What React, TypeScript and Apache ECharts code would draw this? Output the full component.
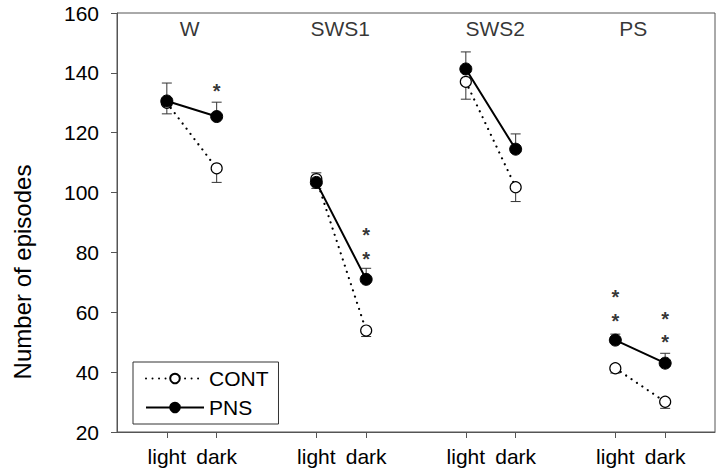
import React, { useEffect, useRef } from "react";
import * as echarts from "echarts";

// x positions: 13 category slots, pairs at 1-2, 4-5, 7-8, 10-11
const xCategories = ["", "light", "dark", "", "light", "dark", "", "light", "dark", "", "light", "dark", ""];
const groupNames = ["W", "SWS1", "SWS2", "PS"];
const groupLabelX = [1.46, 4.48, 7.59, 10.36];
const groupLabelY = 154.7;

const contMean = ["-", 130.0, 108.1, "-", 104.5, 53.9, "-", 137.0, 101.8, "-", 41.3, 30.1, "-"];
const contErr = [0, 3.7, 4.7, 0, 3.1, 2.0, 0, 5.8, 4.8, 0, 1.6, 2.2, 0];
const pnsMean = ["-", 130.6, 125.4, "-", 103.4, 71.0, "-", 141.3, 114.5, "-", 50.7, 43.0, "-"];
const pnsErr = [0, 6.0, 4.8, 0, 3.2, 3.7, 0, 5.7, 5.1, 0, 2.0, 3.3, 0];

// significance asterisks: [x index, y value]
const stars = [
  [2, 135.4],
  [5, 87.0],
  [5, 79.3],
  [10, 66.6],
  [10, 58.5],
  [11, 59.1],
  [11, 51.3],
];

const yTitle = "Number of episodes";
const FONT = "'Liberation Sans', Arial, Helvetica, sans-serif";

function errData(mean: any[], err: number[], dir: number) {
  const out: number[][] = [];
  mean.forEach((m, i) => {
    if (typeof m === "number") out.push([i, m, m + dir * err[i]]);
  });
  return out;
}

function errSeries(data: number[][]) {
  return {
    type: "custom",
    silent: true,
    z: 1,
    data,
    renderItem: (params: any, api: any) => {
      const x = api.value(0);
      const p0 = api.coord([x, api.value(1)]);
      const p1 = api.coord([x, api.value(2)]);
      const hw = 5;
      return {
        type: "group",
        children: [
          { type: "line", shape: { x1: p0[0], y1: p0[1], x2: p1[0], y2: p1[1] }, style: { stroke: "#333", lineWidth: 1 } },
          { type: "line", shape: { x1: p1[0] - hw, y1: p1[1], x2: p1[0] + hw, y2: p1[1] }, style: { stroke: "#333", lineWidth: 1 } },
        ],
      };
    },
  };
}

export default function App() {
  const ref = useRef<HTMLDivElement>(null);
  useEffect(() => {
    if (!ref.current) return;
    const chart = echarts.init(ref.current, null, { renderer: "svg" });
    chart.setOption({
      animation: false,
      backgroundColor: "#fff",
      textStyle: { fontFamily: FONT },
      grid: { left: 117, right: 5, top: 13, bottom: 42, show: true, borderColor: "#555", borderWidth: 1 },
      legend: {
        orient: "vertical",
        left: 133,
        top: 362,
        borderColor: "#333",
        borderWidth: 1,
        padding: [6, 10, 6, 12],
        itemWidth: 58,
        itemHeight: 12,
        itemGap: 8,
        textStyle: { fontSize: 21, color: "#000", fontFamily: FONT },
        data: ["CONT", "PNS"],
      },
      graphic: [
        {
          type: "text",
          x: 22,
          y: 272,
          rotation: Math.PI / 2,
          style: {
            text: yTitle,
            fontSize: 24,
            fontFamily: FONT,
            fill: "#000",
            textAlign: "center",
            textVerticalAlign: "middle",
          },
        },
      ],
      xAxis: [
        {
          type: "category",
          data: xCategories,
          boundaryGap: false,
          axisLine: { lineStyle: { color: "#555" } },
          axisTick: { interval: (i: number, v: string) => v !== "", length: 6, lineStyle: { color: "#555" } },
          axisLabel: { interval: 0, fontSize: 21, color: "#000", margin: 14, fontFamily: FONT },
          splitLine: { show: false },
        },
        { type: "value", min: 0, max: 12, show: false },
      ],
      yAxis: {
        type: "value",
        min: 20,
        max: 160,
        interval: 20,
        axisLine: { show: true, lineStyle: { color: "#555" } },
        axisTick: { show: true, length: 6, lineStyle: { color: "#555" } },
        axisLabel: { fontSize: 21, color: "#000", margin: 18, fontFamily: FONT },
        splitLine: { show: false },
      },
      series: [
        errSeries(errData(contMean, contErr, -1)),
        errSeries(errData(pnsMean, pnsErr, 1)),
        {
          name: "CONT",
          type: "line",
          data: contMean,
          connectNulls: false,
          symbol: "circle",
          symbolSize: 11,
          z: 3,
          itemStyle: { color: "#fff", borderColor: "#000", borderWidth: 1.2 },
          lineStyle: { color: "#000", width: 2.2, type: [0.01, 6.5], cap: "round" },
        },
        {
          name: "PNS",
          type: "line",
          data: pnsMean,
          connectNulls: false,
          symbol: "circle",
          symbolSize: 12,
          z: 4,
          itemStyle: { color: "#000", borderColor: "#000", borderWidth: 1 },
          lineStyle: { color: "#000", width: 2 },
        },
        {
          type: "scatter",
          silent: true,
          symbolSize: 0,
          z: 5,
          data: stars,
          label: {
            show: true,
            formatter: "*",
            position: "inside",
            offset: [0, 4],
            fontSize: 20,
            lineHeight: 12,
            fontWeight: "bold",
            color: "#000",
            fontFamily: FONT,
          },
        },
        {
          type: "scatter",
          xAxisIndex: 1,
          silent: true,
          symbolSize: 0,
          z: 5,
          data: groupNames.map((n, i) => [groupLabelX[i], groupLabelY]),
          label: {
            show: true,
            position: "inside",
            formatter: (p: any) => groupNames[p.dataIndex],
            fontSize: 21,
            color: "#000",
            fontFamily: FONT,
          },
        },
      ],
    });
    return () => chart.dispose();
  }, []);
  return <div ref={ref} style={{ width: 720, height: 474, position: "absolute", left: 0, top: 0 }} />;
}
